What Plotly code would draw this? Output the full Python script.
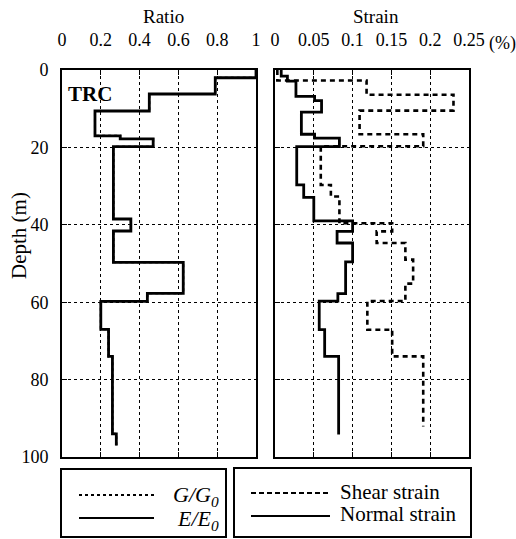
import plotly.graph_objects as go

# ---------------- data ----------------
# Left panel: stiffness ratios (layer top depths, values), bottom depth
ratio_depth_top = [0, 2.0, 6.2, 10.6, 17.0, 17.8, 19.8, 38.5, 41.6, 49.7, 57.7, 59.8, 67.0, 74.0, 94.0]
ratio_depth_bottom = 97.0
ee0_values = [1.0, 0.79, 0.45, 0.17, 0.30, 0.47, 0.265, 0.355, 0.265, 0.625, 0.44, 0.20, 0.24, 0.26, 0.28]
gg0_values = [1.0, 0.79, 0.45, 0.17, 0.30, 0.47, 0.265, 0.355, 0.265, 0.625, 0.44, 0.20, 0.24, 0.26, 0.28]

# Right panel: strains (%)
normal_depth_top = [0, 1.6, 2.9, 6.8, 7.9, 10.9, 16.6, 17.6, 19.8, 29.7, 32.9, 39.0, 41.7, 44.7,
                    49.6, 57.8, 59.7, 67.1, 74.0]
normal_depth_bottom = 94.2
normal_strain = [0.008, 0.016, 0.027, 0.051, 0.06, 0.034, 0.051, 0.083, 0.028, 0.037, 0.05, 0.1,
                 0.08, 0.1, 0.091, 0.081, 0.057, 0.064, 0.082]

shear_depth_top = [0, 2.7, 6.4, 10.5, 16.6, 19.7, 29.7, 32.7, 39.6, 41.7, 44.7, 49.0, 55.2,
                   59.7, 67.1, 74.0]
shear_depth_bottom = 92.1
shear_strain = [0.003, 0.118, 0.23, 0.109, 0.191, 0.059, 0.072, 0.083, 0.151, 0.131, 0.168,
                0.178, 0.168, 0.119, 0.151, 0.191]

ratio_ticks = [0, 0.2, 0.4, 0.6, 0.8, 1.0]
ratio_ticktext = ["0", "0.2", "0.4", "0.6", "0.8", "1"]
strain_ticks = [0, 0.05, 0.1, 0.15, 0.2, 0.25]
strain_ticktext = ["0", "0.05", "0.1", "0.15", "0.2", "0.25"]
depth_ticks = [0, 20, 40, 60, 80, 100]

W, H = 516, 539
FONT = "Liberation Serif, Times New Roman, serif"


def px(x):
    return x / W


def py(y):
    return 1 - y / H


def steps(vals, tops, bottom):
    return list(vals) + [vals[-1]], list(tops) + [bottom]


fig = go.Figure()

x, y = steps(gg0_values, ratio_depth_top, ratio_depth_bottom)
fig.add_trace(go.Scatter(x=x, y=y, mode="lines", line=dict(color="black", width=2, dash="dot", shape="vh"),
                         xaxis="x", yaxis="y", name="G/G0"))
x, y = steps(ee0_values, ratio_depth_top, ratio_depth_bottom)
fig.add_trace(go.Scatter(x=x, y=y, mode="lines", line=dict(color="black", width=2.8, shape="vh"),
                         xaxis="x", yaxis="y", name="E/E0"))
x, y = steps(shear_strain, shear_depth_top, shear_depth_bottom)
fig.add_trace(go.Scatter(x=x, y=y, mode="lines",
                         line=dict(color="black", width=2.6, dash="5px,4px", shape="vh"),
                         xaxis="x2", yaxis="y2", name="Shear strain"))
x, y = steps(normal_strain, normal_depth_top, normal_depth_bottom)
fig.add_trace(go.Scatter(x=x, y=y, mode="lines", line=dict(color="black", width=2.8, shape="vh"),
                         xaxis="x2", yaxis="y2", name="Normal strain"))

common_x = dict(side="top", showgrid=True, gridcolor="black", griddash="dot", gridwidth=1,
                showline=True, linecolor="black", linewidth=2, mirror="ticks",
                ticks="inside", ticklen=5, tickcolor="black", zeroline=False,
                tickfont=dict(family=FONT, size=18, color="black"), ticklabelstandoff=15)
common_y = dict(range=[100, 0], tickvals=depth_ticks, showgrid=True, gridcolor="black", griddash="dot",
                gridwidth=1, showline=True, linecolor="black", linewidth=2, mirror=True,
                ticks="inside", ticklen=5, tickcolor="black", zeroline=False,
                domain=[py(457), py(70)],
                tickfont=dict(family=FONT, size=18, color="black"))

fig.update_layout(
    width=W, height=H, margin=dict(l=0, r=0, t=0, b=0, autoexpand=False),
    paper_bgcolor="white", plot_bgcolor="white", showlegend=False,
    xaxis=dict(domain=[px(62), px(256)], range=[0, 1], tickvals=ratio_ticks, ticktext=ratio_ticktext,
               anchor="y", **common_x),
    xaxis2=dict(domain=[px(275), px(469)], range=[0, 0.25], tickvals=strain_ticks,
                ticktext=strain_ticktext, anchor="y2", **common_x),
    yaxis=dict(anchor="x", ticklabelstandoff=8, **common_y),
    yaxis2=dict(anchor="x2", matches="y", showticklabels=False, **common_y),
)

tf = dict(family=FONT, color="black")


def label(text, x, y, size, xanchor="center", angle=0):
    return dict(text=text, x=px(x), y=py(y), xref="paper", yref="paper", showarrow=False,
                xanchor=xanchor, yanchor="middle", textangle=angle, font=dict(size=size, **tf))


ann = [
    label("Ratio", 163, 17, 19),
    label("Strain", 376, 17, 19),
    label("(%)", 487, 44, 18, xanchor="left"),
    label("Depth (m)", 19, 236, 21, angle=-90),
    label("<b>TRC</b>", 66, 94, 21, xanchor="left"),
    label("<i>G/G</i><sub><i>0</i></sub>", 221, 496, 22, xanchor="right"),
    label("<i>E/E</i><sub><i>0</i></sub>", 221, 520, 22, xanchor="right"),
    label("Shear strain", 338, 492, 21, xanchor="left"),
    label("Normal strain", 338, 514, 21, xanchor="left"),
]
fig.update_layout(annotations=ann)


def hline(x0, x1, yv, dash="solid"):
    return dict(type="line", xref="paper", yref="paper", x0=px(x0), x1=px(x1), y0=py(yv), y1=py(yv),
                line=dict(color="black", width=2, dash=dash))


shapes = [
    dict(type="rect", xref="paper", yref="paper", x0=px(61), x1=px(226), y0=py(537), y1=py(469),
         line=dict(color="black", width=2)),
    dict(type="rect", xref="paper", yref="paper", x0=px(234), x1=px(471), y0=py(537), y1=py(468),
         line=dict(color="black", width=2)),
    hline(79, 154, 495, "dot"),
    hline(79, 154, 518),
    hline(251, 330, 493, "5px,3px"),
    hline(251, 330, 516),
]
fig.update_layout(shapes=shapes)

fig.write_html("out.html", config={"displayModeBar": False},
               post_script="document.body.style.margin='0';document.body.style.overflow='hidden';")
